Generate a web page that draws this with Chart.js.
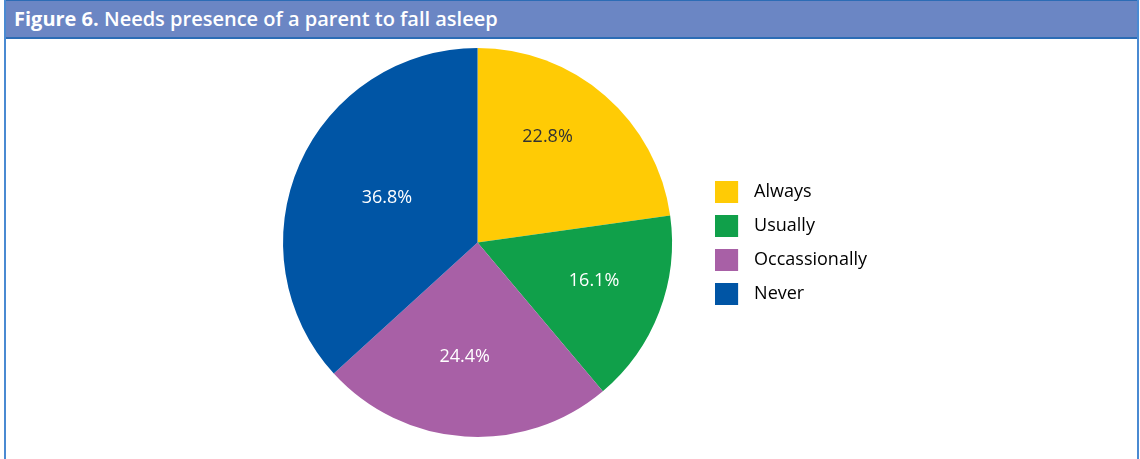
<!DOCTYPE html>
<html>
<head>
<meta charset="utf-8">
<script src="https://cdn.jsdelivr.net/npm/chart.js@4.4.1/dist/chart.umd.min.js"></script>
<style>
    html, body { margin: 0; padding: 0; background: #fff; }
    body { width: 1140px; height: 459px; position: relative; overflow: hidden; font-family: "Open Sans", sans-serif; }
    .frame {
        position: absolute; left: 4px; top: 0; width: 1131px; height: 459px;
        border-left: 2px solid #4a8ad2; border-right: 2px solid #4a8ad2;
    }
    .header {
        height: 36px; background: #6b86c4;
        border-top: 1px solid #2c6cb5; border-bottom: 2px solid #2c6cb5;
        color: #fff; font-size: 20px; font-weight: 600; line-height: 36px;
        padding-left: 8px; white-space: nowrap;
    }
    .header b { font-weight: 700; }
    #wrap { position: absolute; left: 0; top: 39px; width: 1131px; height: 420px; }
</style>
</head>
<body>
<div class="frame">
    <div class="header"><b>Figure 6.</b> Needs presence of a parent to fall asleep</div>
    <div id="wrap"><canvas id="pieChart" width="1131" height="420"></canvas></div>
</div>
<script>
// Dados do gráfico
const categories = ['Always', 'Usually', 'Occassionally', 'Never'];
const percentages = [22.8, 16.1, 24.4, 36.8];
const sliceColors = ['#ffcb05', '#10a04a', '#a860a6', '#0055a5'];
const labelColors = ['#333333', '#ffffff', '#ffffff', '#ffffff'];

// where the text sits inside each slice: share of the slice angle, share of the radius
const labelSpots = [[0.41, 0.65], [0.45, 0.63], [0.53, 0.59], [0.52, 0.52]];

// legend square with extra room on the right, so the text sits further away
function legendSwatch(color) {
    const c = document.createElement('canvas');
    c.width = 30;
    c.height = 22;
    const ctx = c.getContext('2d');
    ctx.fillStyle = color;
    ctx.fillRect(0, 0, 23, 22);
    return c;
}

// percentage text inside each slice
const sliceLabels = {
    id: 'sliceLabels',
    afterDatasetsDraw(chart) {
        const ctx = chart.ctx;
        const meta = chart.getDatasetMeta(0);
        ctx.save();
        ctx.font = '18px "Open Sans"';
        ctx.textAlign = 'center';
        ctx.textBaseline = 'middle';
        meta.data.forEach((arc, i) => {
            const p = arc.getProps(['x', 'y', 'startAngle', 'endAngle', 'outerRadius'], true);
            const [t, f] = labelSpots[i];
            const a = p.startAngle + (p.endAngle - p.startAngle) * t;
            const r = p.outerRadius * f;
            ctx.fillStyle = labelColors[i];
            ctx.fillText(percentages[i].toFixed(1) + '%', p.x + Math.cos(a) * r, p.y + Math.sin(a) * r);
        });
        ctx.restore();
    }
};

new Chart(document.getElementById('pieChart'), {
    type: 'pie',
    data: {
        labels: categories,
        datasets: [{
            data: percentages,
            backgroundColor: sliceColors,
            borderWidth: 0
        }]
    },
    options: {
        responsive: false,
        animation: false,
        layout: { padding: { top: 9, bottom: 22, left: 250, right: 260 } },
        plugins: {
            tooltip: { enabled: false },
            legend: {
                position: 'right',
                align: 'center',
                labels: {
                    usePointStyle: true,
                    pointStyleWidth: 30,
                    padding: 16,
                    color: '#3a3a3a',
                    font: { family: 'Open Sans', size: 18 },
                    generateLabels(chart) {
                        return categories.map((name, i) => ({
                            text: name,
                            fillStyle: sliceColors[i],
                            strokeStyle: sliceColors[i],
                            lineWidth: 0,
                            pointStyle: legendSwatch(sliceColors[i]),
                            hidden: false,
                            index: i
                        }));
                    }
                }
            }
        }
    },
    plugins: [sliceLabels]
});
</script>
</body>
</html>
